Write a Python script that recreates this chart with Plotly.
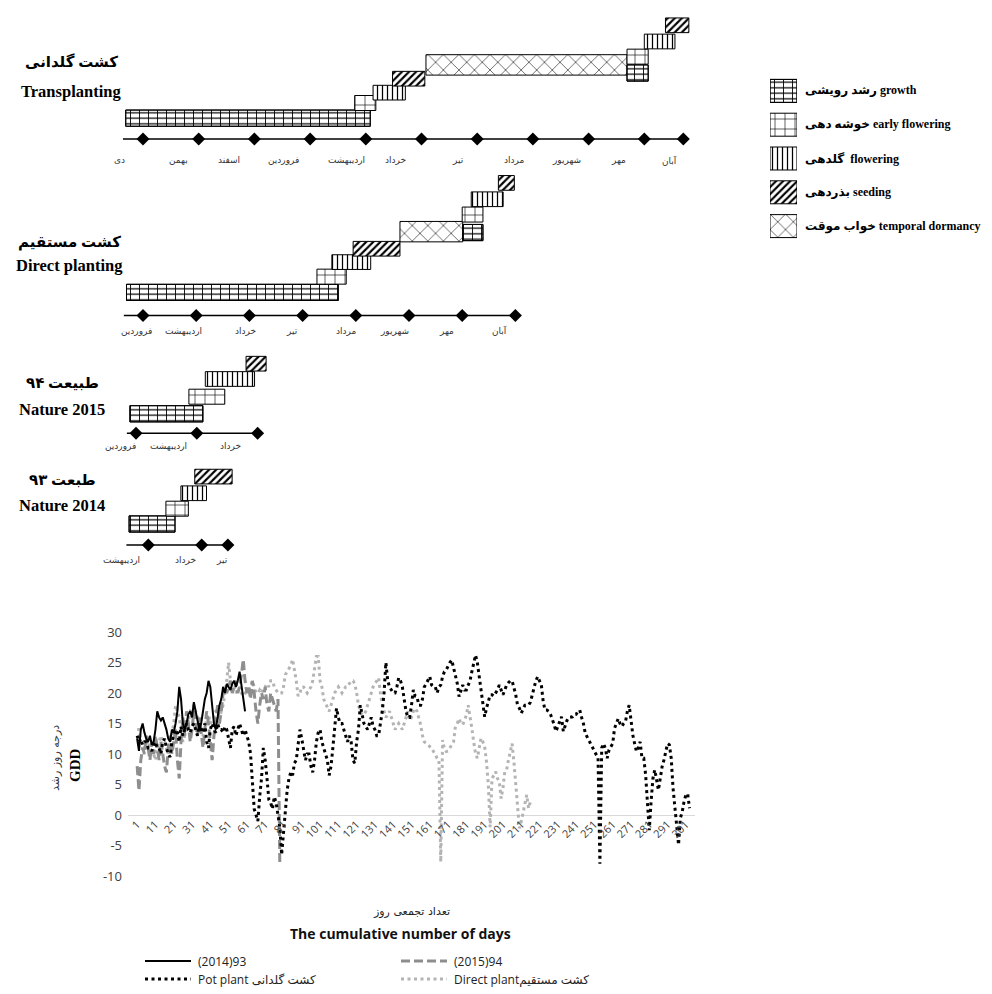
import plotly.graph_objects as go

# ---------------- phenology (Gantt) data : x in months ----------------
tp_months = ["دی", "بهمن", "اسفند", "فروردین", "اردیبهشت", "خرداد", "تیر", "مرداد", "شهریور", "مهر", "آبان"]
tp_label_pos = [-0.42, 0.63, 1.55, 2.52, 3.65, 4.54, 5.66, 6.66, 7.60, 8.53, 9.45]
tp_marks = [0, 1, 2, 3, 4, 5, 6, 7, 8, 9, 9.7]
tp_phase = ["growth", "early", "flower", "seed", "dormancy", "growth", "early", "flower", "seed"]
tp_start = [-0.31, 3.80, 4.13, 4.48, 5.08, 8.69, 8.69, 9.00, 9.38]
tp_end = [4.08, 4.18, 4.71, 5.06, 8.69, 9.07, 9.07, 9.55, 9.80]
tp_level = [1.39, 2.40, 3.09, 4.02, 4.94, 4.40, 5.49, 6.50, 7.58]

dp_months = ["فروردین", "اردیبهشت", "خرداد", "تیر", "مرداد", "شهریور", "مهر", "آبان"]
dp_label_pos = [-0.13, 0.77, 1.92, 2.80, 3.82, 4.73, 5.71, 6.71]
dp_marks = [0, 1, 2, 3, 4, 5, 6, 7]
dp_phase = ["growth", "early", "flower", "seed", "dormancy", "growth", "early", "flower", "seed"]
dp_start = [-0.31, 3.27, 3.55, 3.95, 4.83, 6.01, 6.00, 6.17, 6.68]
dp_end = [3.67, 3.82, 4.28, 4.83, 6.01, 6.39, 6.39, 6.77, 6.98]
dp_level = [1.54, 2.59, 3.56, 4.45, 5.59, 5.53, 6.73, 7.75, 8.84]

n15_months = ["فروردین", "اردیبهشت", "خرداد"]
n15_label_pos = [-0.26, 0.53, 1.55]
n15_marks = [0, 1, 2]
n15_phase = ["growth", "early", "flower", "seed"]
n15_start = [-0.10, 0.87, 1.14, 1.81]
n15_end = [1.10, 1.46, 1.95, 2.14]
n15_level = [1.30, 2.44, 3.62, 4.64]

n14_months = ["اردیبهشت", "خرداد", "تیر"]
n14_label_pos = [-0.50, 0.69, 1.38]
n14_marks = [0, 1, 1.49]
n14_phase = ["growth", "early", "flower", "seed"]
n14_start = [-0.36, 0.33, 0.61, 0.87]
n14_end = [0.50, 0.75, 1.09, 1.57]
n14_level = [1.40, 2.42, 3.45, 4.56]

legend_phase = ["growth", "early", "flower", "seed", "dormancy"]
legend_fa = ["رشد رویشی", "خوشه دهی", "گلدهی ", "بذردهی", "خواب موقت"]
legend_en = ["growth", "early flowering", "flowering", "seeding", "temporal dormancy"]

# ---------------- GDD data (daily) ----------------
gdd_2014 = [
    12.5, 10.5, 14, 15, 13.5, 12.5, 12, 13, 11.5, 12,
    14, 17, 16, 15.5, 16, 15, 14, 12.5, 12, 14,
    13.5, 15, 17, 21, 19, 15, 14, 15, 16.5, 17,
    16, 18.5, 17, 15, 14, 15, 17, 19, 20, 22,
    21, 18, 15, 14, 16, 18, 19, 21, 20, 21.5,
    21, 20.5, 21.5, 22, 21, 22, 23.5, 21, 19, 17]

gdd_2015 = [
    8, 4, 9, 11, 10, 13, 11, 9, 12, 10,
    13, 11, 9, 12, 10, 8, 7, 11, 13, 10,
    12, 14, 9, 6, 12, 16, 13, 17, 15, 12,
    14, 17, 15, 13, 16, 13, 11, 14, 17, 15,
    12, 9, 13, 16, 18, 15, 17, 20, 21, 20,
    21, 22, 20, 21, 22, 20, 21, 23, 25.5, 22,
    20, 21, 19, 22, 20, 17, 15, 18, 20, 19,
    21, 18, 17, 20, 19, 18, 17, 19, -8]

gdd_pot = [
    13, 12, 12.5, 11.5, 12, 12, 11, 11, 10.5, 11.5,
    12, 11, 11, 10, 12, 12.5, 11, 10, 9.5, 12,
    13, 14, 13.5, 12, 14.5, 13, 14, 15, 14, 13.5,
    14.5, 15, 14, 13, 15, 14, 13.5, 15, 12, 11,
    14, 15, 14, 13.5, 15, 14, 14, 13.5, 14.5, 14,
    12.5, 11, 14, 14.5, 13, 14, 15, 14, 13, 14,
    13, 12, 10, 5, 1, 0, -1, 3, 6, 11,
    9, 6, 2.5, 2, 1, 3, 2, 0, -2, -6.5,
    -3, 1, 4, 6, 7, 6.5, 8.5, 9, 12, 14,
    12.5, 11, 9, 10, 10, 8, 7, 9, 12, 13.5,
    14, 12, 11, 10, 9, 6.5, 8, 11, 14, 17.5,
    16, 15, 15, 14, 13, 12, 13, 12, 9, 8.5,
    12, 14, 18, 16.5, 15, 14.5, 14, 15, 16, 14.5,
    14, 13, 13, 15, 17, 20, 25, 22, 21, 20.5,
    20, 20, 21, 22.5, 22, 21, 19, 17, 16, 16,
    18, 20.5, 19.5, 19.4, 18, 18, 19, 21, 21.5, 22,
    22.7, 21.3, 21, 21, 20, 21, 21.3, 22.7, 23.5, 23.8,
    24.5, 25, 25.4, 24, 22.5, 21.6, 19.4, 20.5, 21.3, 20.5,
    20.5, 21.3, 22, 23.5, 25, 26.2, 25, 22.7, 21.3, 18.6,
    16.1, 17.5, 18.6, 19.7, 19.7, 19.5, 20, 20.5, 21.3, 20.5,
    19.7, 20.5, 21.3, 21.7, 22, 22, 21, 19.7, 18, 17.5,
    16.7, 17.5, 18, 18, 18, 18.5, 19.7, 21, 22, 22.7,
    22, 21.3, 18.6, 17.2, 17.2, 17, 16.5, 15.8, 14.8, 13.7,
    14.5, 15, 16.1, 13.7, 14.8, 15.5, 16, 16.1, 16.1, 16.5,
    16.5, 17, 17.2, 16, 15, 13.4, 12.8, 12.3, 11.7, 11.2,
    10.4, 10, 9.3, -8, 11, 11.7, 10.9, 9.3, 10.7, 11.2,
    11.7, 14.2, 15, 15.8, 15, 14.5, 15, 15.3, 17, 18,
    15.6, 13.1, 11.7, 10.4, 11, 12, 9.3, 9.3, 6.6, 1.6,
    -2.5, 2.2, 6, 7.4, 5.5, 4.1, 6, 7.9, 9, 10.4,
    11.7, 11.5, 9.3, 4.4, 1.1, -2.2, -4.9, -0.5, 0.5, 2.2,
    3.3, 3.5, 1.1]

gdd_direct = [
    14, 14, 12, 11, 11, 12, 12, 11, 10, 10,
    9, 11, 12, 13, 12, 12, 11, 10, 12, 13,
    15, 18, 17, 16, 14, 12, 13, 14, 15, 17,
    17.5, 18, 17, 16, 14.5, 14, 13, 14, 16, 16.5,
    15, 15.5, 16, 17, 17, 16, 17, 18, 20, 22,
    25, 22, 21, 21, 20, 20.5, 21, 20, 19.5, 20,
    20, 20.5, 21, 22, 21, 20, 20, 20.5, 20, 21,
    21, 21.5, 21, 22, 22, 21, 20.5, 20, 20, 20,
    21, 23, 23.5, 24, 24.5, 25.5, 24, 22, 19.5, 20,
    21, 21, 20.5, 20, 20.5, 21, 22, 24, 26, 26,
    22, 21, 19, 18.3, 17.5, 17, 18, 19, 20, 20.5,
    21, 20.5, 20, 20.5, 21, 21, 21.5, 22, 22, 21.5,
    20, 18, 17, 16.4, 16.5, 17, 18, 19, 20, 21,
    21.5, 22, 22.5, 20, 18, 17, 16, 16.5, 17, 16,
    15, 14, 14.5, 15, 14.5, 14, 15, 16, 17, 15.5,
    16, 17, 17.5, 17, 16, 14.8, 13, 12, 11.7, 11.5,
    11.2, 11, 10.4, 10, 9.3, 9, -7.7, 12.3, 10.9, 10.4,
    10.5, 10.9, 11.5, 12, 14.5, 15, 15.8, 15, 14.8, 15.5,
    16.4, 18, 16.4, 14.2, 12, 10.1, 9.3, 10.9, 12.6, 12,
    11.2, 8.7, 5, -2, 6, 6.5, 7.1, 6, 5.5, 2.7,
    4.4, 7.1, 7.4, 9, 10.4, 11.7, 8.7, 4.9, 1.1, -2.2,
    -1.1, 0.5, 1.6, 3.3, 1.1, 2.2]

x_ticks = list(range(1, 302, 10))
y_ticks = [-10, -5, 0, 5, 10, 15, 20, 25, 30]

# ---------------- styling / layout helpers ----------------
W, H = 992, 994
ROW_PX = 15.0


def px_x(x):
    return x / W


def px_y(y):
    return 1 - y / H


SERIF = "Liberation Serif, DejaVu Sans"
SANS_FA = "DejaVu Sans"
SANS = "Open Sans, DejaVu Sans"

PHASE_PATTERN = {
    "growth": dict(shape="-", size=5.5, solidity=0.22),
    "early": dict(shape="+", size=10, solidity=0.12),
    "flower": dict(shape="|", size=5, solidity=0.25),
    "seed": dict(shape="/", size=5, solidity=0.42),
    "dormancy": dict(shape="x", size=11, solidity=0.1),
}
BRICK_OVERLAY = dict(shape="|", size=9, solidity=0.1)
PHASE_THICK = {"growth": 1.08, "early": 1.0, "flower": 0.98, "seed": 0.98, "dormancy": 1.36}
DRAW_ORDER = ["dormancy", "growth", "early", "flower", "seed"]

fig = go.Figure()
layout_axes = {}
annotations = []


def note(**kw):
    kw.setdefault("showarrow", False)
    kw.setdefault("xanchor", "center")
    kw.setdefault("yanchor", "middle")
    annotations.append(kw)


def add_bars(xa, ya, starts, ends, levels, phase, widths):
    fig.add_trace(go.Bar(
        orientation="h", base=starts, x=[e - s for s, e in zip(starts, ends)], y=levels,
        width=widths, xaxis=xa, yaxis=ya, showlegend=False, hoverinfo="skip",
        marker=dict(color="white", line=dict(color="black", width=1),
                    pattern=dict(fgcolor="black", bgcolor="white", fillmode="replace",
                                 **PHASE_PATTERN[phase]))))
    if phase == "growth":
        fig.add_trace(go.Bar(
            orientation="h", base=starts, x=[e - s for s, e in zip(starts, ends)], y=levels,
            width=widths, xaxis=xa, yaxis=ya, showlegend=False, hoverinfo="skip",
            marker=dict(color="rgba(0,0,0,0)", line=dict(color="black", width=1),
                        pattern=dict(fgcolor="black", bgcolor="rgba(0,0,0,0)",
                                     fillmode="replace", **BRICK_OVERLAY))))


panels = [
    dict(months=tp_months, lab=tp_label_pos, marks=tp_marks, phase=tp_phase, start=tp_start,
         end=tp_end, level=tp_level, px0=143, ppm=55.7, tl=139, laby=-1.4,
         fa="کشت گلدانی", en="Transplanting", tx=71, fay=62, eny=92),
    dict(months=dp_months, lab=dp_label_pos, marks=dp_marks, phase=dp_phase, start=dp_start,
         end=dp_end, level=dp_level, px0=143, ppm=53.2, tl=315.5, laby=-1.0,
         fa="کشت مستقیم", en="Direct planting", tx=69, fay=242, eny=265),
    dict(months=n15_months, lab=n15_label_pos, marks=n15_marks, phase=n15_phase, start=n15_start,
         end=n15_end, level=n15_level, px0=136, ppm=60.8, tl=433.3, laby=-0.85,
         fa="طبیعت ۹۴", en="Nature 2015", tx=62, fay=383, eny=410),
    dict(months=n14_months, lab=n14_label_pos, marks=n14_marks, phase=n14_phase, start=n14_start,
         end=n14_end, level=n14_level, px0=148.3, ppm=53.4, tl=545, laby=-1.0,
         fa="طبعت ۹۳", en="Nature 2014", tx=62, fay=480, eny=505),
]

for i, p in enumerate(panels, start=1):
    s = "" if i == 1 else str(i)
    xa, ya = "x" + s, "y" + s
    layout_axes["xaxis" + s] = dict(domain=[0, 1], range=[-p["px0"] / p["ppm"], (W - p["px0"]) / p["ppm"]],
                                    visible=False, anchor=ya, fixedrange=True, automargin=False)
    layout_axes["yaxis" + s] = dict(domain=[0, 1], range=[(p["tl"] - H) / ROW_PX, p["tl"] / ROW_PX],
                                    visible=False, anchor=xa, fixedrange=True, automargin=False)
    for ph in DRAW_ORDER:
        idx = [k for k, q in enumerate(p["phase"]) if q == ph]
        if not idx:
            continue
        add_bars(xa, ya, [p["start"][k] for k in idx], [p["end"][k] for k in idx],
                 [p["level"][k] for k in idx], ph, [PHASE_THICK[ph]] * len(idx))
    # timeline
    t0 = min(p["start"]) - 0.05
    fig.add_trace(go.Scatter(x=[t0, p["marks"][-1]], y=[0, 0], mode="lines", xaxis=xa, yaxis=ya,
                             line=dict(color="black", width=1.5), showlegend=False, hoverinfo="skip"))
    fig.add_trace(go.Scatter(x=p["marks"], y=[0] * len(p["marks"]), mode="markers", xaxis=xa, yaxis=ya,
                             marker=dict(symbol="diamond", size=10, color="black"),
                             showlegend=False, hoverinfo="skip"))
    for m, lx in zip(p["months"], p["lab"]):
        note(x=lx, y=p["laby"], xref=xa, yref=ya, text=m,
             font=dict(family=SANS_FA, size=9, color="#333"))
    note(x=px_x(p["tx"]), y=px_y(p["fay"]), xref="paper", yref="paper",
         text="<b>" + p["fa"] + "</b>", font=dict(family=SERIF, size=15, color="black"))
    note(x=px_x(p["tx"]), y=px_y(p["eny"]), xref="paper", yref="paper",
         text="<b>" + p["en"] + "</b>", font=dict(family=SERIF, size=16.5, color="black"))

# ---------------- pattern legend (right) ----------------
layout_axes["xaxis6"] = dict(domain=[px_x(770), px_x(797)], range=[0, 1], visible=False,
                             anchor="y6", fixedrange=True, automargin=False)
layout_axes["yaxis6"] = dict(domain=[px_y(243), px_y(74)], range=[4.5, -0.5], visible=False,
                             anchor="x6", fixedrange=True, automargin=False)
for i, ph in enumerate(legend_phase):
    add_bars("x6", "y6", [0], [1], [i], ph, [0.68])
    note(x=1, y=i, xref="x6", yref="y6", xanchor="left", xshift=6,
         text="<b>" + legend_fa[i] + " " + legend_en[i] + "</b>",
         font=dict(family=SERIF, size=12, color="black"))

# ---------------- GDD line chart ----------------
fig.add_trace(go.Scatter(x=list(range(1, len(gdd_direct) + 1)), y=gdd_direct, mode="lines",
                         xaxis="x5", yaxis="y5", showlegend=False,
                         line=dict(color="#b4b4b4", width=3, dash="3px,3.5px")))
fig.add_trace(go.Scatter(x=list(range(1, len(gdd_2015) + 1)), y=gdd_2015, mode="lines",
                         xaxis="x5", yaxis="y5", showlegend=False,
                         line=dict(color="#8e8e8e", width=3, dash="9px,4px")))
fig.add_trace(go.Scatter(x=list(range(1, len(gdd_pot) + 1)), y=gdd_pot, mode="lines",
                         xaxis="x5", yaxis="y5", showlegend=False,
                         line=dict(color="black", width=3, dash="3px,3.5px")))
fig.add_trace(go.Scatter(x=list(range(1, len(gdd_2014) + 1)), y=gdd_2014, mode="lines",
                         xaxis="x5", yaxis="y5", showlegend=False,
                         line=dict(color="black", width=2)))

layout_axes["xaxis5"] = dict(domain=[px_x(128), px_x(695)], range=[-4, 306], anchor="free",
                             position=px_y(815), tickmode="array", tickvals=x_ticks,
                             ticktext=[str(v) for v in x_ticks], tickangle=-45, showgrid=False,
                             zeroline=False, showline=False, ticks="", automargin=False,
                             tickfont=dict(family=SANS, size=11, color="#404040"), fixedrange=True)
layout_axes["yaxis5"] = dict(domain=[px_y(876), px_y(632)], range=[-10, 30], anchor="x5",
                             tickmode="array", tickvals=y_ticks, ticktext=[str(v) for v in y_ticks],
                             showgrid=False, zeroline=True, zerolinecolor="#d9d9d9", zerolinewidth=1.2,
                             showline=False, ticks="", automargin=False, ticklabelstandoff=5,
                             tickfont=dict(family=SANS, size=13, color="#404040"), fixedrange=True)

note(x=px_x(55), y=px_y(758), xref="paper", yref="paper", text="درجه روز رشد", textangle=-90,
     font=dict(family=SANS_FA, size=11, color="#333"))
note(x=px_x(75), y=px_y(765), xref="paper", yref="paper", text="<b>GDD</b>", textangle=-90,
     font=dict(family=SERIF, size=15, color="black"))
note(x=px_x(411), y=px_y(911), xref="paper", yref="paper", text="تعداد تجمعی روز",
     font=dict(family=SANS_FA, size=11, color="#222"))
note(x=px_x(400), y=px_y(933), xref="paper", yref="paper", text="<b>The cumulative number of days</b>",
     font=dict(family=SANS, size=14, color="#111"))

# bottom legend
leg_items = [
    ("(2014)93", 145, 961, dict(color="black", width=2)),
    ("(2015)94", 401, 961, dict(color="#8e8e8e", width=3, dash="9px,4px")),
    ("Pot plant کشت گلدانی", 145, 979, dict(color="black", width=3, dash="3px,3.5px")),
    ("Direct plantکشت مستقیم", 401, 979, dict(color="#b4b4b4", width=3, dash="3px,3.5px")),
]
shapes = []
for text, x0, yy, ln in leg_items:
    shapes.append(dict(type="line", xref="paper", yref="paper", x0=px_x(x0), x1=px_x(x0 + 46),
                       y0=px_y(yy), y1=px_y(yy), line=ln))
    note(x=px_x(x0 + 51), y=px_y(yy), xref="paper", yref="paper", xanchor="left",
         text=text, font=dict(family=SANS, size=12, color="#222"))

fig.update_layout(
    width=W, height=H, margin=dict(l=0, r=0, t=0, b=0, pad=0, autoexpand=False),
    paper_bgcolor="white", plot_bgcolor="rgba(0,0,0,0)",
    barmode="overlay", showlegend=False,
    annotations=annotations, shapes=shapes,
    **layout_axes,
)

fig.write_html("out.html", config={"displayModeBar": False},
               post_script="document.body.style.margin='0';document.body.style.overflow='hidden';")
